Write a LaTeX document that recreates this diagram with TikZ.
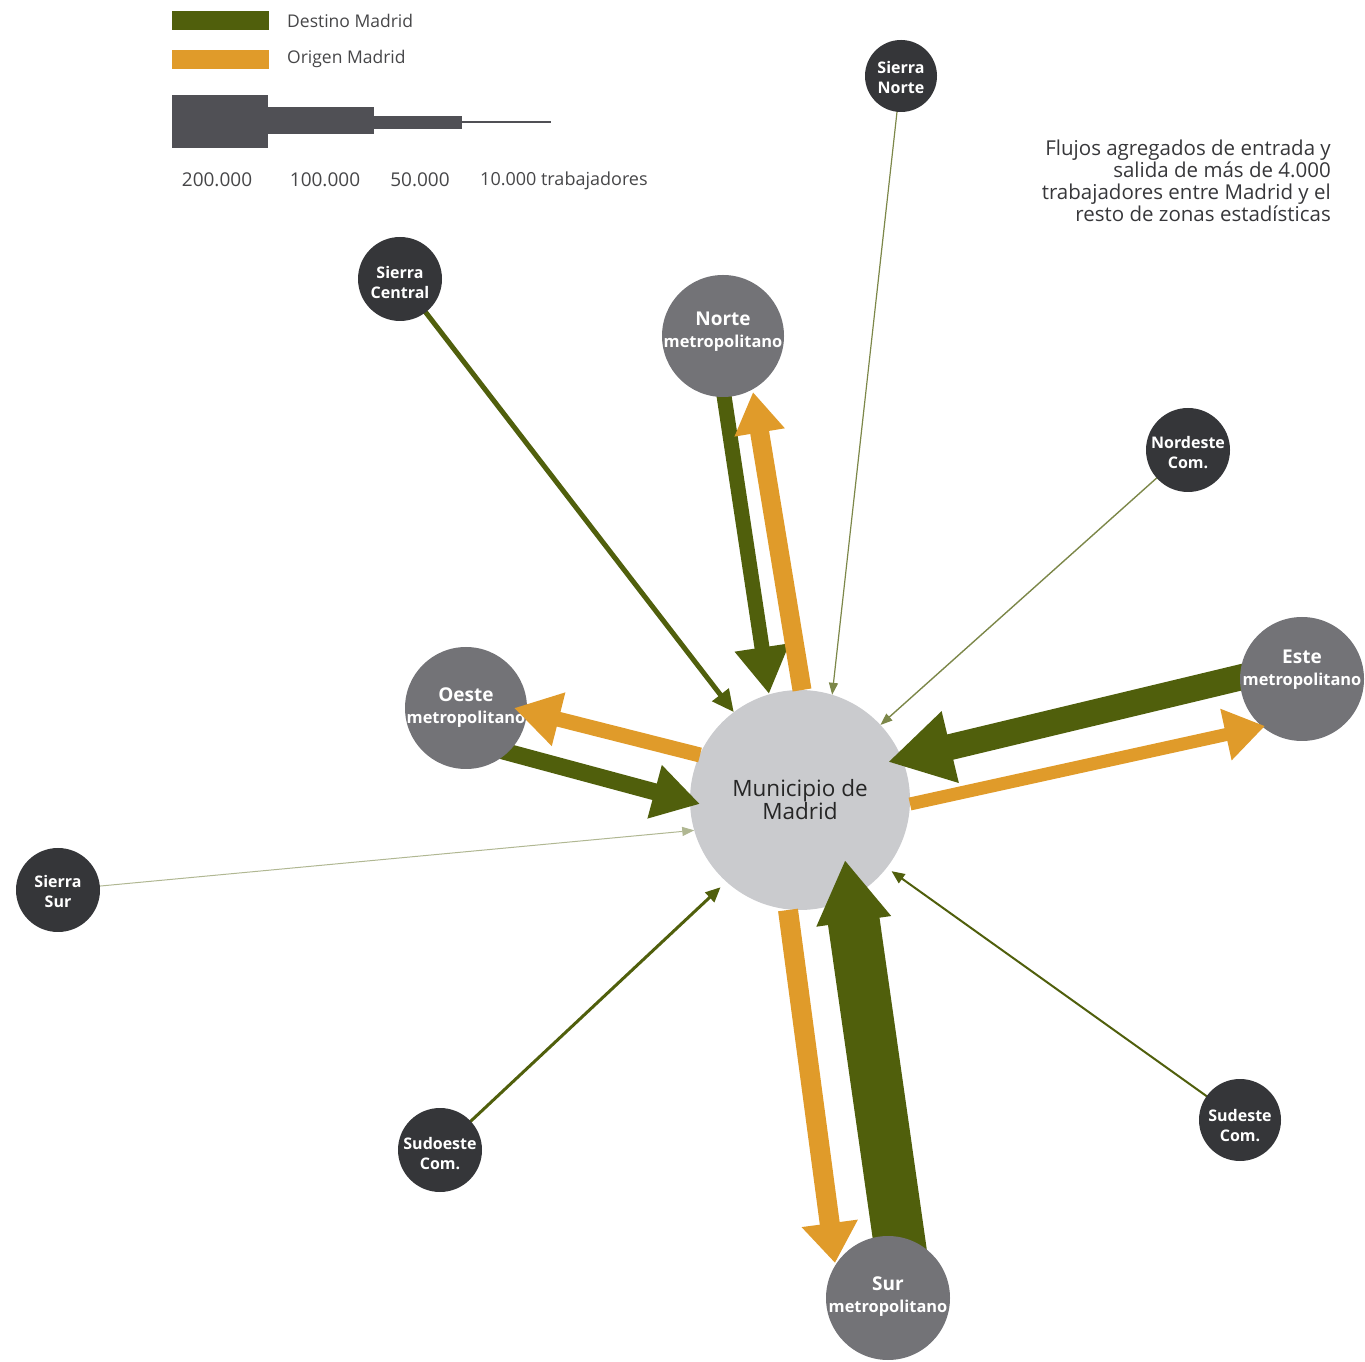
\documentclass[tikz,border=0pt]{standalone}
\usepackage{fontspec}
\setmainfont{Open Sans}
\usetikzlibrary{arrows.meta,calc}
\definecolor{dest}{RGB}{80,95,12}
\definecolor{orig}{RGB}{224,155,42}
\definecolor{metro}{RGB}{115,115,119}
\definecolor{sierra}{RGB}{53,54,57}
\definecolor{muni}{RGB}{202,203,206}
\definecolor{bar}{RGB}{80,80,85}
\definecolor{txt}{RGB}{70,70,72}
\definecolor{note}{RGB}{55,55,58}
\begin{document}
\begin{tikzpicture}[x=1pt,y=1pt,
  zone/.style={circle,fill=#1,inner sep=0pt,outer sep=0pt},
  bigzone/.style={zone=metro,minimum size=122pt},
  smallzone/.style={zone=sierra,minimum size=84pt},
  bigtext/.style={inner sep=0pt,text=white,align=center,font=\fontsize{19}{22}\selectfont\bfseries},
  smalltext/.style={inner sep=0pt,text=white,align=center,font=\fontsize{16}{20}\selectfont\bfseries},
  destflow/.style n args={3}{draw=dest,line width=#1,-{Triangle[length=#2,width=#3]}},
  origflow/.style n args={3}{draw=orig,line width=#1,-{Triangle[length=#2,width=#3]}},
  legbox/.style={rectangle,inner sep=0pt,outer sep=0pt,minimum width=97pt,minimum height=19pt,fill=#1},
  legtext/.style={inner sep=0pt,font=\fontsize{17.5}{19}\selectfont,text=txt},
  numtext/.style={inner sep=0pt,font=\fontsize{18}{19}\selectfont,text=txt},
  scalebar/.style={rectangle,inner sep=0pt,outer sep=0pt,fill=bar}
]
\useasboundingbox (0,0) rectangle (1365,1361);

% legend
\node[legbox=dest] (legd) at (220.5,1340.5) {};
\node[legbox=orig] (lego) at (220.5,1301.5) {};
\node[legtext,anchor=west] (legdt) at (287,1340) {Destino Madrid};
\node[legtext,anchor=west] (legot) at (287,1302) {Origen Madrid};
\node[scalebar,minimum width=96pt,minimum height=53pt] (b1) at (220,1239.5) {};
\node[scalebar,minimum width=106pt,minimum height=27pt] (b2) at (321,1240.5) {};
\node[scalebar,minimum width=88pt,minimum height=13pt] (b3) at (418,1238.5) {};
\node[scalebar,minimum width=89pt,minimum height=2.5pt] (b4) at (506.5,1239) {};
\node[numtext,font=\fontsize{19}{20}\selectfont] (l1) at (217,1181) {200.000};
\node[numtext,font=\fontsize{19}{20}\selectfont] (l2) at (325,1181) {100.000};
\node[numtext,font=\fontsize{19}{20}\selectfont] (l3) at (420,1181) {50.000};
\node[numtext,anchor=west] (l4) at (480,1180) {10.000 trabajadores};

% note
\node[anchor=north east,align=right,inner sep=0pt,text=note,font=\fontsize{20.5}{22}\selectfont] (nota) at (1331,1221)
 {Flujos agregados de entrada y\\salida de más de 4.000\\trabajadores entre Madrid y el\\resto de zonas estadísticas};

% central node
\node[circle,fill=muni,inner sep=0pt,outer sep=0pt,minimum size=220pt,align=center,text=black!85,font=\fontsize{22.5}{23}\selectfont] (madrid) at (800,561) {Municipio de\\Madrid};

% zone positions
\coordinate (cnorte) at (723,1025);
\coordinate (coeste) at (466,653);
\coordinate (ceste) at (1302,682);
\coordinate (csur) at (888,63);
\coordinate (csnorte) at (901,1285);
\coordinate (cscentral) at (400,1082);
\coordinate (cnordeste) at (1188,911);
\coordinate (cssur) at (58,471);
\coordinate (csudoeste) at (440,211);
\coordinate (csudeste) at (1240,241);

% flows into Madrid (destino)
\draw[destflow={5pt}{22pt}{20pt}] (cscentral) -- (madrid.127);
\draw[destflow={1.2pt}{12pt}{9pt},draw=dest!75] (csnorte) -- (madrid.73);
\draw[destflow={1.4pt}{12pt}{9pt},draw=dest!75] (cnordeste) -- (madrid.43);
\draw[destflow={1pt}{12pt}{9pt},draw=dest!45] (cssur) -- (madrid.196);
\draw[destflow={3pt}{15pt}{13pt},shorten >=8pt] (csudoeste) -- (madrid.228);
\draw[destflow={2pt}{13pt}{11pt},shorten >=6pt] (csudeste) -- (madrid.-38);
\draw[destflow={15pt}{47pt}{52pt}] ($(cnorte)+(-8,0)$) -- ($(madrid.center)+(-31,106)$);
\draw[destflow={17pt}{47pt}{52pt}] ($(coeste)+(0,-33)$) -- ($(madrid.center)+(-100,-4)$);
\draw[destflow={26pt}{64pt}{69pt}] ($(ceste)+(-18,12)$) -- ($(madrid.center)+(88,38)$);
\draw[destflow={52pt}{62pt}{71pt}] ($(csur)+(18,10)$) -- ($(madrid.center)+(45,-60)$);

% zones
\node[bigzone] (norte) at (cnorte) {};
\node[bigtext] (nortet) at ($(norte.center)+(0,4)$) {Norte\\{\fontsize{16.4}{17}\selectfont metropolitano}};
\node[bigzone] (oeste) at (coeste) {};
\node[bigtext] (oestet) at ($(oeste.center)+(0,0)$) {Oeste\\{\fontsize{16.4}{17}\selectfont metropolitano}};
\node[bigzone,minimum size=124pt] (este) at (ceste) {};
\node[bigtext] (estet) at ($(este.center)+(0,9)$) {Este\\{\fontsize{16.4}{17}\selectfont metropolitano}};
\node[bigzone,minimum size=124pt] (sur) at (csur) {};
\node[bigtext] (surt) at ($(sur.center)+(0,1)$) {Sur\\{\fontsize{16.4}{17}\selectfont metropolitano}};
\node[smallzone,minimum size=72pt] (snorte) at (csnorte) {};
\node[smalltext] (snortet) at ($(snorte.center)+(0,-2)$) {Sierra\\Norte};
\node[smallzone] (scentral) at (cscentral) {};
\node[smalltext] (scentralt) at ($(scentral.center)+(0,-3.5)$) {Sierra\\Central};
\node[smallzone] (nordeste) at (cnordeste) {};
\node[smalltext] (nordestet) at ($(nordeste.center)+(0,-3)$) {Nordeste\\Com.};
\node[smallzone] (ssur) at (cssur) {};
\node[smalltext] (ssurt) at ($(ssur.center)+(0,-2)$) {Sierra\\Sur};
\node[smallzone] (sudoeste) at (csudoeste) {};
\node[smalltext] (sudoestet) at ($(sudoeste.center)+(0,-3.5)$) {Sudoeste\\Com.};
\node[smallzone,minimum size=82pt] (sudeste) at (csudeste) {};
\node[smalltext] (sudestet) at ($(sudeste.center)+(0,-5.5)$) {Sudeste\\Com.};

% flows out of Madrid (origen)
\draw[origflow={19pt}{41pt}{48pt}] ($(madrid.center)+(2,110)$) -- ($(norte.center)+(30,-56)$);
\draw[origflow={15pt}{46pt}{52pt}] ($(madrid.center)+(-100,45)$) -- ($(oeste.center)+(48,0)$);
\draw[origflow={13pt}{40pt}{50pt}] ($(madrid.center)+(110,-4)$) -- ($(este.center)+(-37,-47)$);
\draw[origflow={20pt}{40pt}{54pt}] ($(madrid.center)+(-12,-110)$) -- ($(sur.center)+(-53,35)$);
\end{tikzpicture}
\end{document}
